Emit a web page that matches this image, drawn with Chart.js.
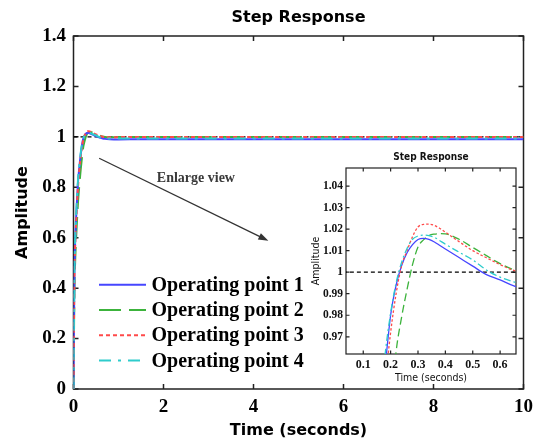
<!DOCTYPE html>
<html><head><meta charset="utf-8">
<script src="https://cdn.jsdelivr.net/npm/chart.js@4.4.1/dist/chart.umd.min.js"></script>
<style>
html,body{margin:0;padding:0;background:#fff;}
#wrap{position:relative;width:540px;height:440px;overflow:hidden;}
#main{position:absolute;left:0;top:0;}
#inset{position:absolute;left:300px;top:145px;}
</style></head><body>
<div id="wrap"><canvas id="main" width="540" height="440"></canvas><canvas id="inset" width="222" height="243"></canvas></div>
<script>
// ---- data ----
const times = [0, 0.01, 0.02, 0.04, 0.07, 0.1, 0.13, 0.16, 0.18, 0.2, 0.22, 0.24, 0.26, 0.28, 0.3, 0.32, 0.34, 0.36, 0.38, 0.4, 0.45, 0.5, 0.55, 0.6, 0.65, 0.7, 0.8, 0.9, 1, 1.5, 2, 3, 4, 5, 6, 7, 8, 9, 10];
const op1 = [0, 0.25, 0.45, 0.6, 0.72, 0.82, 0.88, 0.93, 0.956, 0.980, 0.994, 1.003, 1.009, 1.0128, 1.0152, 1.0157, 1.0152, 1.0140, 1.0124, 1.0108, 1.0068, 1.0028, 0.9989, 0.9964, 0.9936, 0.992, 0.9905, 0.990, 0.990, 0.991, 0.991, 0.991, 0.991, 0.991, 0.991, 0.991, 0.991, 0.991, 0.991];
const op2 = [0, 0.2, 0.38, 0.52, 0.64, 0.74, 0.81, 0.87, 0.905, 0.935, 0.963, 0.979, 0.992, 1.0035, 1.0117, 1.015, 1.017, 1.0177, 1.0179, 1.0178, 1.0153, 1.0115, 1.0077, 1.004, 1.0011, 0.9995, 0.9985, 0.9985, 0.999, 0.999, 0.999, 0.999, 0.999, 0.999, 0.999, 0.999, 0.999, 0.999, 0.999];
const op3 = [0, 0.24, 0.43, 0.58, 0.7, 0.8, 0.87, 0.92, 0.948, 0.972, 0.990, 1.003, 1.010, 1.0165, 1.021, 1.0222, 1.0223, 1.0217, 1.0203, 1.0186, 1.0142, 1.010, 1.0067, 1.0035, 1.0008, 0.999, 0.998, 0.998, 0.999, 0.999, 0.999, 0.999, 0.999, 0.999, 0.999, 0.999, 0.999, 0.999, 0.999];
const op4 = [0, 0.26, 0.46, 0.61, 0.73, 0.83, 0.89, 0.935, 0.962, 0.981, 0.995, 1.0045, 1.011, 1.0153, 1.0168, 1.0172, 1.017, 1.0162, 1.0146, 1.013, 1.0093, 1.0057, 1.001, 0.9977, 0.9955, 0.994, 0.993, 0.993, 0.993, 0.993, 0.993, 0.993, 0.993, 0.993, 0.993, 0.993, 0.993, 0.993, 0.993];
const seriesLabels = ['Operating point 1', 'Operating point 2', 'Operating point 3', 'Operating point 4'];
const steadyValue = 1;
const mainXTicks = [0, 2, 4, 6, 8, 10];
const mainYTicks = [0, 0.2, 0.4, 0.6, 0.8, 1, 1.2, 1.4];
const insetXTicks = [0.1, 0.2, 0.3, 0.4, 0.5, 0.6];
const insetYTicks = [0.97, 0.98, 0.99, 1, 1.01, 1.02, 1.03, 1.04];
const arrowFrom = [0.57, 0.915];
const arrowTo = [4.33, 0.588];
const noteText = 'Enlarge view';
const notePos = [2.72, 0.835];

// ---- styles ----
const colors = ['#4646ff', '#3cb33c', '#ff4a4a', '#2ecccc'];
const mainDash = [[], [22, 8], [4, 3], [12, 7, 3, 7]];
const insetDash = [[], [8, 4], [2.5, 2], [7, 3, 2, 3]];
const drawOrder = [2, 3, 1, 0];
const seriesData = [op1, op2, op3, op4];
const pts = arr => times.map((t, i) => ({x: t, y: arr[i]}));

function makeDatasets(dash, width, refWidth) {
  const ds = seriesData.map((arr, i) => ({
    label: seriesLabels[i], data: pts(arr), borderColor: colors[i], borderWidth: width,
    borderDash: dash[i], pointRadius: 0, fill: false, cubicInterpolationMode: 'monotone',
    order: drawOrder[i], inLegend: true, legendDash: mainDash[i]
  }));
  ds.push({label: 'steady', data: [{x: 0, y: steadyValue}, {x: 10, y: steadyValue}],
    borderColor: '#000', borderWidth: refWidth, borderDash: [4, 3], pointRadius: 0, order: 10, inLegend: false});
  return ds;
}

const frameTicks = {
  id: 'frameTicks',
  beforeDatasetsDraw(chart, args, o) {
    const {ctx, chartArea: a, scales: {x, y}} = chart;
    ctx.save();
    ctx.strokeStyle = o.color; ctx.lineWidth = o.width;
    ctx.strokeRect(a.left, a.top, a.right - a.left, a.bottom - a.top);
    ctx.beginPath();
    x.ticks.forEach(t => { const p = x.getPixelForValue(t.value);
      ctx.moveTo(p, a.bottom); ctx.lineTo(p, a.bottom - o.len);
      ctx.moveTo(p, a.top); ctx.lineTo(p, a.top + o.len); });
    y.ticks.forEach(t => { const p = y.getPixelForValue(t.value);
      ctx.moveTo(a.left, p); ctx.lineTo(a.left + o.len, p);
      ctx.moveTo(a.right, p); ctx.lineTo(a.right - o.len, p); });
    ctx.stroke(); ctx.restore();
  }
};

const insideLegend = {
  id: 'insideLegend',
  afterDatasetsDraw(chart, args, o) {
    if (!o.show) return;
    const {ctx, chartArea: a} = chart;
    ctx.save();
    let row = 0;
    chart.data.datasets.forEach(ds => {
      if (!ds.inLegend) return;
      const yy = a.top + o.top + row * o.step;
      ctx.strokeStyle = ds.borderColor; ctx.lineWidth = o.lineWidth;
      ctx.setLineDash(ds.legendDash);
      ctx.beginPath(); ctx.moveTo(a.left + o.lineX, yy); ctx.lineTo(a.left + o.lineX + o.lineLen, yy); ctx.stroke();
      ctx.setLineDash([]);
      ctx.fillStyle = '#000'; ctx.font = o.font; ctx.textBaseline = 'middle'; ctx.textAlign = 'left';
      ctx.fillText(ds.label, a.left + o.textX, yy + 1);
      row++;
    });
    ctx.restore();
  }
};

const noteArrow = {
  id: 'noteArrow',
  afterDatasetsDraw(chart, args, o) {
    if (!o.show) return;
    const {ctx, scales: {x, y}} = chart;
    const x1 = x.getPixelForValue(arrowFrom[0]), y1 = y.getPixelForValue(arrowFrom[1]);
    const x2 = x.getPixelForValue(arrowTo[0]), y2 = y.getPixelForValue(arrowTo[1]);
    const ang = Math.atan2(y2 - y1, x2 - x1);
    ctx.save();
    ctx.strokeStyle = '#333'; ctx.fillStyle = '#333'; ctx.lineWidth = 1.3;
    ctx.beginPath(); ctx.moveTo(x1, y1); ctx.lineTo(x2 - 6 * Math.cos(ang), y2 - 6 * Math.sin(ang)); ctx.stroke();
    ctx.beginPath(); ctx.moveTo(x2, y2);
    ctx.lineTo(x2 - 10 * Math.cos(ang) + 3.5 * Math.sin(ang), y2 - 10 * Math.sin(ang) - 3.5 * Math.cos(ang));
    ctx.lineTo(x2 - 10 * Math.cos(ang) - 3.5 * Math.sin(ang), y2 - 10 * Math.sin(ang) + 3.5 * Math.cos(ang));
    ctx.closePath(); ctx.fill();
    ctx.fillStyle = '#3a3a3a'; ctx.font = 'bold 14px "Liberation Serif"';
    ctx.textAlign = 'center'; ctx.textBaseline = 'middle';
    ctx.fillText(noteText, x.getPixelForValue(notePos[0]), y.getPixelForValue(notePos[1]));
    ctx.restore();
  }
};

const fixTicks = arr => scale => { scale.ticks = arr.map(v => ({value: v})); };
const fmt = v => String(v);
const noGrid = {display: false, drawTicks: false, tickLength: 0};

// ---- main chart ----
new Chart(document.getElementById('main'), {
  type: 'line',
  data: {datasets: makeDatasets(mainDash, 2, 1.4)},
  plugins: [frameTicks, insideLegend, noteArrow],
  options: {
    responsive: false, animation: false, devicePixelRatio: 1, events: [],
    layout: {padding: {left: 0, right: 13, top: 0, bottom: 0}},
    plugins: {
      legend: {display: false}, tooltip: {enabled: false},
      title: {display: true, text: 'Step Response', fullSize: false, color: '#000',
        font: {family: '"DejaVu Sans"', size: 16, weight: 'bold', lineHeight: 1.2}, padding: {top: 8, bottom: 8.8}},
      frameTicks: {color: '#222', width: 1.5, len: 5},
      insideLegend: {show: true, top: 248.7, step: 25.3, lineX: 25.5, lineLen: 47, textX: 78, lineWidth: 2,
        font: 'bold 20px "Liberation Serif"'},
      noteArrow: {show: true}
    },
    scales: {
      x: {type: 'linear', min: 0, max: 10, afterBuildTicks: fixTicks(mainXTicks),
        afterFit: s => { s.height = 51; },
        grid: noGrid, border: {display: false},
        ticks: {callback: fmt, color: '#000', padding: 7, maxRotation: 0,
          font: {family: '"Liberation Serif"', size: 19, weight: 'bold'}},
        title: {display: true, text: 'Time (seconds)', color: '#000', padding: {top: 0, bottom: 0},
          font: {family: '"DejaVu Sans"', size: 16, weight: 'bold', lineHeight: 1.2}}},
      y: {type: 'linear', min: 0, max: 1.4, afterBuildTicks: fixTicks(mainYTicks),
        afterFit: s => { s.width = 73.5; },
        grid: noGrid, border: {display: false},
        ticks: {callback: fmt, color: '#000', padding: 7.5,
          font: {family: '"Liberation Serif"', size: 19, weight: 'bold'}},
        title: {display: true, text: 'Amplitude', color: '#000', padding: {top: 12.9, bottom: 0},
          font: {family: '"DejaVu Sans"', size: 16, weight: 'bold', lineHeight: 1.2}}}
    }
  }
});

// ---- inset chart ----
const narrow = '"Liberation Sans Narrow", "DejaVu Sans Condensed", "Liberation Sans"';
new Chart(document.getElementById('inset'), {
  type: 'line',
  data: {datasets: makeDatasets(insetDash, 1.3, 1.2)},
  plugins: [frameTicks],
  options: {
    responsive: false, animation: false, devicePixelRatio: 1, events: [],
    layout: {padding: {left: 0, right: 6, top: 0, bottom: 0}},
    plugins: {
      legend: {display: false}, tooltip: {enabled: false},
      title: {display: true, text: 'Step Response', fullSize: false, color: '#111',
        font: {family: narrow, size: 10, weight: 'bold', lineHeight: 1.2}, padding: {top: 6, bottom: 5}},
      frameTicks: {color: '#222', width: 1.2, len: 3.5}
    },
    scales: {
      x: {type: 'linear', min: 0.037, max: 0.658, afterBuildTicks: fixTicks(insetXTicks),
        afterFit: s => { s.height = 34; },
        grid: noGrid, border: {display: false},
        ticks: {callback: fmt, color: '#111', padding: 4, maxRotation: 0,
          font: {family: '"Liberation Serif"', size: 12, weight: 'bold'}},
        title: {display: true, text: 'Time (seconds)', color: '#111', padding: {top: 0, bottom: 3},
          font: {family: narrow, size: 10.5, lineHeight: 1.2}}},
      y: {type: 'linear', min: 0.962, max: 1.0484, afterBuildTicks: fixTicks(insetYTicks),
        afterFit: s => { s.width = 46; },
        grid: noGrid, border: {display: false},
        ticks: {callback: fmt, color: '#111', padding: 3,
          font: {family: '"Liberation Serif"', size: 11.5, weight: 'bold'}},
        title: {display: true, text: 'Amplitude', color: '#111', padding: {top: 10, bottom: 0},
          font: {family: narrow, size: 10.5, lineHeight: 1.2}}}
    }
  }
});
</script>
</body></html>
